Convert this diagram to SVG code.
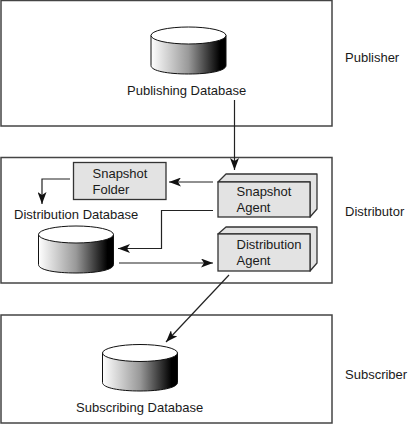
<svg xmlns="http://www.w3.org/2000/svg" width="408" height="441" viewBox="0 0 408 441">
<style>
text{font-family:"Liberation Sans",Arial,sans-serif;font-size:13px;fill:#1a1a1a}
.panel{fill:#fff;stroke:#444;stroke-width:1.5}
.box{fill:#e3e3e3;stroke:#333;stroke-width:1.3}
.side{fill:#e3e3e3;stroke:#333;stroke-width:1.3;stroke-linejoin:round}
.cyl{fill:url(#shade);stroke:#111;stroke-width:1}
.top{fill:#fff;stroke:#111;stroke-width:1}
.c{fill:none;stroke:#222;stroke-width:1.2}
</style>
<defs>
<linearGradient id="shade" x1="0" x2="1" y1="0" y2="0">
<stop offset="0" stop-color="#fff"/><stop offset="0.5" stop-color="#999"/><stop offset="0.92" stop-color="#000"/><stop offset="1" stop-color="#000"/>
</linearGradient>
<marker id="arrow" viewBox="0 0 12 9" refX="12" refY="4.500" markerWidth="12" markerHeight="9" markerUnits="userSpaceOnUse" orient="auto">
<path d="M0 0L12 4.500L0 9L3 4.500Z" fill="#111"/>
</marker>
</defs>
<rect width="408" height="441" fill="#fff"/>
<g id="publisher">
<rect class="panel" x="1" y="0.500" width="331" height="125.500"/>
<text x="345" y="62">Publisher</text>
</g>
<g id="distributor">
<rect class="panel" x="1" y="157.500" width="331" height="125.500"/>
<text x="345" y="216">Distributor</text>
</g>
<g id="subscriber">
<rect class="panel" x="1" y="315" width="331" height="108"/>
<text x="345" y="379">Subscriber</text>
</g>
<g id="publishing-database">
<path class="cyl" d="M151 35.500V65.500C151 71 168 74 188.500 74S226 71 226 65.500V35.500Z"/>
<ellipse class="top" cx="188.500" cy="35.500" rx="37.500" ry="8.500"/>
<text x="127" y="95">Publishing Database</text>
</g>
<g id="snapshot-folder">
<rect class="box" x="73.500" y="162.500" width="92.500" height="37"/>
<text x="92.500" y="178">Snapshot</text>
<text x="92.500" y="194">Folder</text>
</g>
<g id="distribution-database">
<text x="14" y="219">Distribution Database</text>
<path class="cyl" d="M38.500 234.500V264.500C38.500 270 55 273 76 273S113.500 270 113.500 264.500V234.500Z"/>
<ellipse class="top" cx="76" cy="234.500" rx="37.500" ry="8.500"/>
</g>
<g id="snapshot-agent">
<path class="side" d="M218 182L226 174H317V209L310 217V182Z"/>
<rect class="box" x="218" y="182" width="92" height="35"/>
<text x="236.500" y="196">Snapshot</text>
<text x="236.500" y="212">Agent</text>
</g>
<g id="distribution-agent">
<path class="side" d="M218 234L226 227H317V263L310 271V234Z"/>
<rect class="box" x="218" y="234" width="92" height="37"/>
<text x="236.500" y="249">Distribution</text>
<text x="236.500" y="265">Agent</text>
</g>
<g id="subscribing-database">
<path class="cyl" d="M102.500 353V382.500C102.500 388 120 391 140 391S177.500 388 177.500 382.500V353Z"/>
<ellipse class="top" cx="140" cy="353" rx="37.500" ry="8.500"/>
<text x="76" y="412">Subscribing Database</text>
</g>
<g id="connectors">
<path class="c" marker-end="url(#arrow)" d="M234.500 100V170"/>
<path class="c" marker-end="url(#arrow)" d="M213 182H169"/>
<path class="c" marker-end="url(#arrow)" d="M70 179H42V204"/>
<path class="c" marker-end="url(#arrow)" d="M213 210.500H161.500V248.500H118"/>
<path class="c" stroke-width="1.500" marker-end="url(#arrow)" d="M119 263H213"/>
<path class="c" marker-end="url(#arrow)" d="M229 275L166 342"/>
</g>
</svg>
